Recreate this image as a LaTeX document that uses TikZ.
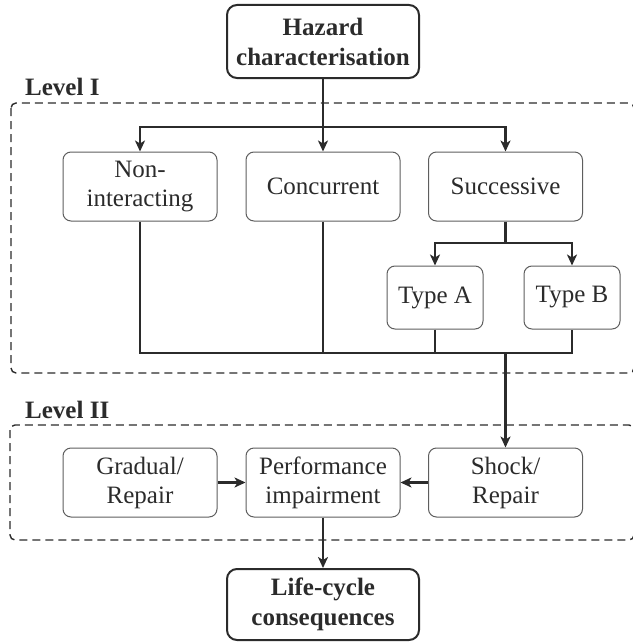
\documentclass[tikz,border=0pt]{standalone}
\usepackage{fontspec}
\setmainfont{Liberation Serif}
\usetikzlibrary{arrows.meta}
\definecolor{boxline}{HTML}{5E5E5E}
\definecolor{ink}{HTML}{2B2B2B}
\tikzset{
  box/.style={draw=boxline, line width=1pt, rounded corners=8pt, align=center,
              text=ink, inner sep=0pt, font=\fontsize{25}{29}\selectfont},
  boldbox/.style={box, draw=ink, line width=2pt, rounded corners=10pt,
                  font=\fontsize{25}{30}\selectfont\bfseries},
  link/.style={draw=ink, line width=2.5pt},
  arr/.style={link, -{Stealth[length=11pt, width=10pt, inset=3pt]}},
  grp/.style={draw=ink, line width=1.4pt, dash pattern=on 8pt off 5pt, rounded corners=5pt},
  lvl/.style={anchor=base west, inner sep=0pt, text=ink,
              font=\fontsize{25}{29}\selectfont\bfseries},
}
\begin{document}
\begin{tikzpicture}[x=1pt, y=-1pt]
    \useasboundingbox (0,0) rectangle (632,642);
    % level frames
    \draw[grp] (11,103) rectangle (634,373);
    \draw[grp] (10,425) rectangle (634,540);
    \node[lvl] (lvlone) at (25,95) {Level I};
    \node[lvl] (lvltwo) at (25,418) {Level II};
    % top and bottom
    \node[boldbox, minimum width=192pt, minimum height=73pt] (haz) at (323,41.5) {Hazard\\characterisation};
    \node[boldbox, minimum width=192pt, minimum height=71pt] (life) at (323,604.5) {Life-cycle\\consequences};
    % level I
    \node[box, minimum width=154pt, minimum height=69pt] (nonint) at (140,186.5) {Non-\\interacting};
    \node[box, minimum width=154pt, minimum height=69pt] (conc) at (323,186.5) {Concurrent};
    \node[box, minimum width=154pt, minimum height=69pt] (succ) at (505.5,186.5) {Successive};
    \node[box, minimum width=96pt, minimum height=63pt] (typea) at (435,297.5) {Type A};
    \node[box, minimum width=96pt, minimum height=63pt] (typeb) at (572,297.5) {Type B};
    % level II
    \node[box, minimum width=154pt, minimum height=69pt] (grad) at (140,482.5) {Gradual/\\Repair};
    \node[box, minimum width=154pt, minimum height=69pt] (perf) at (323,482.5) {Performance\\impairment};
    \node[box, minimum width=154pt, minimum height=69pt] (shock) at (505.5,482.5) {Shock/\\Repair};
    % connectors
    \coordinate (split) at (323,127);
    \coordinate (splitb) at (505.5,243);
    \coordinate (merge) at (505.5,353);
    \draw[arr] (haz) -- (conc);
    \draw[arr] (split) -| (nonint.north);
    \draw[arr] (split) -| (succ.north);
    \draw[link] (succ.south) -- (splitb);
    \draw[arr] (splitb) -| (typea.north);
    \draw[arr] (splitb) -| (typeb.north);
    \draw[link] (nonint.south) |- (merge) -| (typeb.south);
    \draw[link] (conc.south) -- (conc.south |- merge);
    \draw[link] (typea.south) -- (typea.south |- merge);
    \draw[arr] (merge) -- (shock.north);
    \draw[arr] (grad) -- (perf);
    \draw[arr] (shock) -- (perf);
    \draw[arr] (perf) -- (life);
\end{tikzpicture}
\end{document}
